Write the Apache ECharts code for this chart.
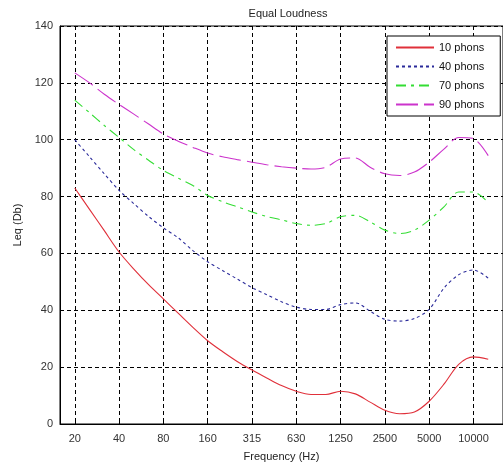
<!DOCTYPE html>
<html>
<head>
<meta charset="utf-8">
<script src="https://cdn.jsdelivr.net/npm/echarts@6/dist/echarts.min.js"></script>
<style>
  html, body { margin: 0; padding: 0; background: #fff; }
  #chart { width: 503px; height: 467px; }
</style>
</head>
<body>
<div id="chart"></div>
<script>
// One-third-octave band centre frequencies (Hz); curves are plotted against band index 1..29
const bands = [20, 25, 31.5, 40, 50, 63, 80, 100, 125, 160, 200, 250, 315, 400, 500,
               630, 800, 1000, 1250, 1600, 2000, 2500, 3150, 4000, 5000, 6300, 8000, 10000, 12500];

// Frequencies that get a tick label on the x axis
const tickFreqs = [20, 40, 80, 160, 315, 630, 1250, 2500, 5000, 10000];

// Sound pressure level (dB) along each equal-loudness contour, one value per band
const phon10 = [83, 75.5, 68, 60.5, 54.5, 49, 44, 39, 34, 29.3, 25.5, 22, 19, 16.2, 13.5,
                11.5, 10.4, 10.4, 11.5, 10.6, 7.7, 4.8, 3.6, 4.2, 8, 14, 21, 23.6, 22.8];
const phon40 = [100, 94, 88, 82.2, 77.5, 73, 69, 65.5, 61, 57.1, 54, 51, 48, 45.5, 43,
                41.1, 40.3, 40.3, 42, 42.6, 39.7, 36.8, 36.2, 37.1, 40.3, 47.8, 52.5, 54.2, 51.3];
const phon70 = [113.9, 109.5, 105, 100.8, 96.5, 92.8, 89.2, 86.5, 83.9, 80.4, 78.2, 76.4, 74.6, 73, 71.8,
                70.5, 69.9, 70.5, 72.9, 73.4, 71.1, 68.2, 67, 68.2, 71.7, 76.4, 81.6, 81.6, 77.9];
const phon90 = [123.5, 120, 116, 112.4, 109, 105.5, 102, 99.5, 97.3, 95.3, 94, 93, 92.1, 91.2, 90.5,
                90, 89.7, 90.3, 93.2, 93.6, 90.3, 88, 87.4, 88.6, 92.1, 96.7, 100.8, 100.4, 94.4];

const seriesNames = ['10 phons', '40 phons', '70 phons', '90 phons'];

const tickIdx = tickFreqs.map(f => bands.indexOf(f) + 1);
const toPairs = vals => vals.map((v, i) => [i + 1, v]);

const font = 'Liberation Sans, Arial, sans-serif';

function contour(name, vals, color, dash) {
  return {
    name: name,
    type: 'line',
    data: toPairs(vals),
    smooth: 0.3,
    symbol: 'none',
    lineStyle: { color: color, width: 1.1, type: dash },
    itemStyle: { color: color },
    z: 3
  };
}

const chart = echarts.init(document.getElementById('chart'), null, { renderer: 'canvas' });
chart.setOption({
  animation: false,
  backgroundColor: '#fff',
  title: {
    text: 'Equal Loudness',
    left: 283,
    top: 3,
    textAlign: 'center',
    textStyle: { fontFamily: font, fontSize: 11, fontWeight: 'normal', color: '#222' }
  },
  legend: {
    orient: 'vertical',
    left: 387,
    top: 36,
    padding: [6, 16, 6, 8],
    itemGap: 8,
    itemWidth: 38,
    itemHeight: 11,
    itemStyle: { opacity: 0 },
    backgroundColor: '#fff',
    borderColor: '#000',
    borderWidth: 1,
    borderRadius: 0,
    data: seriesNames,
    textStyle: { fontFamily: font, fontSize: 11, color: '#111' }
  },
  grid: {
    left: 60,
    right: -5,
    top: 26,
    bottom: 40,
    show: true,
    borderColor: '#000',
    borderWidth: 1,
    backgroundColor: '#fff'
  },
  xAxis: {
    type: 'value',
    min: 0,
    max: 30,
    name: 'Frequency (Hz)',
    nameLocation: 'middle',
    nameGap: 27,
    nameTextStyle: { fontFamily: font, fontSize: 11, color: '#222' },
    axisLine: { show: true, lineStyle: { color: '#000', width: 1 } },
    axisTick: { show: true, inside: true, length: 4, customValues: tickIdx, lineStyle: { color: '#000' } },
    axisLabel: {
      customValues: tickIdx,
      margin: 9,
      fontFamily: font,
      fontSize: 11,
      color: '#333',
      formatter: v => String(bands[Math.round(v) - 1])
    },
    splitLine: { show: true, lineStyle: { color: '#000', type: [4, 3], width: 1 } }
  },
  yAxis: {
    type: 'value',
    min: 0,
    max: 140,
    interval: 20,
    name: 'Leq (Db)',
    nameLocation: 'middle',
    nameGap: 33,
    nameTextStyle: { fontFamily: font, fontSize: 11, color: '#222' },
    axisLine: { show: true, lineStyle: { color: '#000', width: 1 } },
    axisTick: { show: true, inside: true, length: 4, lineStyle: { color: '#000' } },
    axisLabel: { margin: 7, fontFamily: font, fontSize: 11, color: '#333' },
    splitLine: { show: true, lineStyle: { color: '#000', type: [4, 3], width: 1 } }
  },
  series: [
    contour(seriesNames[0], phon10, '#e0303a', 'solid'),
    contour(seriesNames[1], phon40, '#2a2a9a', [3, 3]),
    contour(seriesNames[2], phon70, '#33dd33', [10, 5, 3, 5]),
    contour(seriesNames[3], phon90, '#cc33cc', [22, 6])
  ]
});
</script>
</body>
</html>
